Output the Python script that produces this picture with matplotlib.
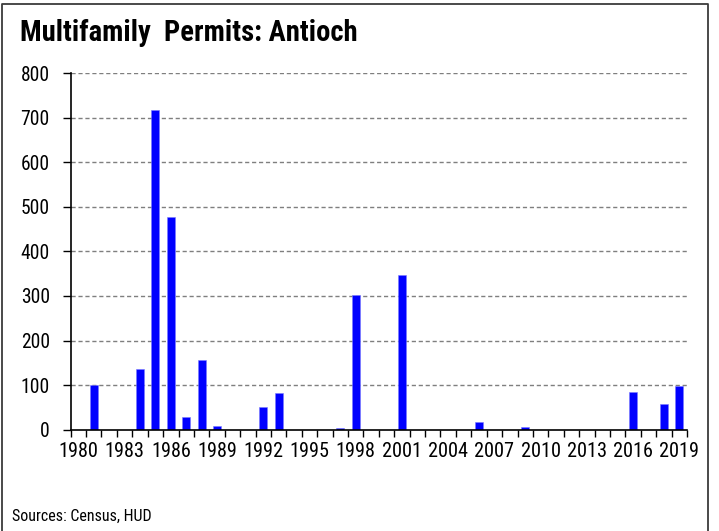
"""Multifamily permits for Antioch, 1980-2019, as an Excel-style bar chart."""
import os

import numpy as np
import matplotlib
matplotlib.use("Agg")
import matplotlib.pyplot as plt
from matplotlib import font_manager as fm
from matplotlib.lines import Line2D

# annual multifamily permits
years = list(range(1980, 2020))
permits = [0, 100, 0, 0, 137, 718, 476, 29, 156, 8,
           0, 0, 51, 82, 0, 0, 0, 4, 301, 0,
           0, 347, 0, 0, 0, 0, 17, 0, 0, 7,
           0, 0, 0, 0, 0, 0, 85, 0, 58, 98]
y_ticks = [0, 100, 200, 300, 400, 500, 600, 700, 800]
label_years = years[::3]

title = "Multifamily  Permits: Antioch"
source = "Sources: Census, HUD"

# the reference uses an Arial Narrow look; take the narrowest face we have
NARROW_KEYS = ["liberationsansnarrow", "robotocondensed", "notosanscondensed",
               "opensanscondensed", "dejavusanscondensed", "liberationsans"]
OTHER_STYLES = ["italic", "oblique", "light", "thin", "medium", "black",
                "semi", "extra", "heavy", "ultra", "demi"]


def pick_font(bold):
    files = {os.path.basename(f.fname): f.fname for f in fm.fontManager.ttflist}
    for key in NARROW_KEYS:
        for base, path in sorted(files.items()):
            norm = base.lower().replace("-", "").replace("_", "").replace(" ", "")
            if not norm.startswith(key):
                continue
            rest = norm[len(key):]
            if any(s in rest for s in OTHER_STYLES):
                continue
            if bold == ("bold" in rest):
                return fm.FontProperties(fname=path)
    return fm.FontProperties(family="DejaVu Sans",
                             weight="bold" if bold else "normal")


fp_reg = pick_font(False)
fp_bold = pick_font(True)

fig = plt.figure(figsize=(7.19, 5.31), dpi=100)
ax = fig.add_axes([0.0983, 0.1908, 0.8572, 0.6717])

x = np.arange(len(years))
ax.bar(x, permits, width=0.52, color="#0000ff", edgecolor="#7a7aff",
       linewidth=0.4, zorder=3)

ax.set_xlim(-0.5, len(years) - 0.5)
ax.set_ylim(0, 800)
ax.set_yticks(y_ticks)
ax.set_yticklabels([str(v) for v in y_ticks], fontproperties=fp_reg)

# tick marks on category boundaries, labels every third year at the centres
ax.set_xticks(np.arange(-0.5, len(years)))
ax.set_xticklabels([])
ax.set_xticks([years.index(y) for y in label_years], minor=True)
ax.set_xticklabels([str(y) for y in label_years], minor=True,
                   fontproperties=fp_reg)
ax.tick_params(axis="x", which="major", direction="out", length=5,
               width=1, color="black")
ax.tick_params(axis="x", which="minor", length=0, pad=9)
ax.tick_params(axis="y", direction="out", length=6, width=1, pad=9)

for v in y_ticks[1:]:
    ax.axhline(v, color="#7f7f7f", linewidth=1, linestyle=(0, (3, 2)),
               zorder=1)

for side in ("top", "right"):
    ax.spines[side].set_visible(False)
for side in ("left", "bottom"):
    ax.spines[side].set_linewidth(1.2)
    ax.spines[side].set_zorder(4)

t_title = fig.text(20 / 719, 1 - 41 / 531, title, fontproperties=fp_bold,
                   ha="left", va="baseline")
t_source = fig.text(12 / 719, 1 - 521 / 531, source, fontproperties=fp_reg,
                    ha="left", va="baseline")

# outer chart frame (bottom edge falls outside the picture)
frame_color = "#3c3c3c"
fx0, fx1, fy1 = 2 / 719, 708 / 719, 1 - 4 / 531
fig.add_artist(Line2D([fx0, fx0, fx1, fx1], [0, fy1, fy1, 0],
                      transform=fig.transFigure, color=frame_color,
                      linewidth=1.3))


def fit_width(texts, ref, target_px, renderer):
    """Size a group of texts so that text `ref` is target_px wide."""
    ref.set_fontsize(12)
    w = ref.get_window_extent(renderer).width
    size = 12 * target_px / w
    for t in texts:
        t.set_fontsize(size)


fig.canvas.draw()
renderer = fig.canvas.get_renderer()
fit_width([t_title], t_title, 337, renderer)
fit_width([t_source], t_source, 139, renderer)
xlabels = ax.get_xticklabels(minor=True)
fit_width(xlabels, xlabels[0], 40, renderer)
ylabels = ax.get_yticklabels()
fit_width(ylabels, ylabels[-1], 29, renderer)

fig.savefig("out.png", dpi=100)
plt.close(fig)
